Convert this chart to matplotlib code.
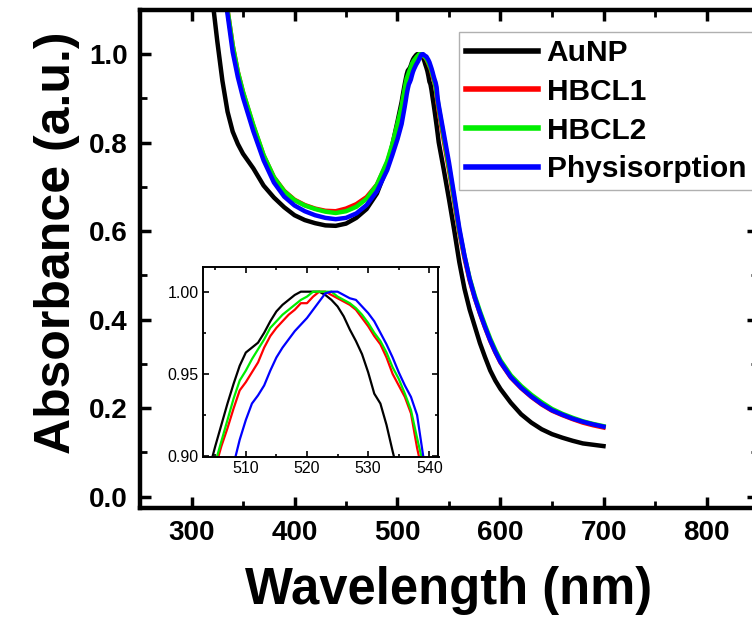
import matplotlib
matplotlib.use("Agg")
import matplotlib.pyplot as plt
from matplotlib.ticker import MultipleLocator

plt.rcParams['font.family'] = ['Liberation Sans', 'DejaVu Sans']

# main spectra (normalised absorbance); the 504-540 nm peak part is in the inset arrays
wavelength = [320, 325, 330, 335, 340, 345, 350, 360, 370, 380, 390, 400, 410, 420, 430,
              440, 450, 460, 470, 480, 490, 495, 500, 545, 550, 555, 560, 565, 570, 575,
              580, 585, 590, 595, 600, 610, 620, 630, 640, 650, 660, 670, 680, 690, 700]

aunp = [1.13, 1.03, 0.94, 0.87, 0.825, 0.797, 0.775, 0.742, 0.703, 0.676, 0.654, 0.636, 0.625,
        0.618, 0.613, 0.612, 0.617, 0.630, 0.650, 0.685, 0.745, 0.795, 0.848,
        0.738, 0.672, 0.603, 0.530, 0.470, 0.423, 0.385, 0.347, 0.315, 0.285, 0.262, 0.243,
        0.212, 0.186, 0.167, 0.152, 0.141, 0.133, 0.126, 0.120, 0.117, 0.114]

hbcl1 = [1.4, 1.3, 1.2, 1.10, 1.02, 0.96, 0.914, 0.838, 0.771, 0.722, 0.691, 0.671, 0.659,
         0.651, 0.646, 0.645, 0.651, 0.661, 0.677, 0.705, 0.755, 0.793, 0.840,
         0.804, 0.738, 0.668, 0.597, 0.539, 0.489, 0.449, 0.414, 0.382, 0.352, 0.326, 0.303,
         0.269, 0.245, 0.225, 0.208, 0.194, 0.184, 0.175, 0.167, 0.161, 0.156]

hbcl2 = [1.4, 1.3, 1.2, 1.10, 1.02, 0.96, 0.915, 0.840, 0.772, 0.722, 0.690, 0.670, 0.658,
         0.650, 0.644, 0.641, 0.645, 0.655, 0.673, 0.705, 0.758, 0.797, 0.843,
         0.812, 0.745, 0.674, 0.602, 0.544, 0.494, 0.454, 0.419, 0.387, 0.357, 0.331, 0.308,
         0.274, 0.250, 0.230, 0.213, 0.198, 0.187, 0.178, 0.170, 0.164, 0.159]

physisorption = [1.38, 1.28, 1.18, 1.09, 1.005, 0.948, 0.902, 0.826, 0.760, 0.710, 0.678, 0.658,
                 0.645, 0.636, 0.630, 0.627, 0.630, 0.640, 0.659, 0.690, 0.738, 0.772, 0.808,
                 0.820, 0.755, 0.682, 0.607, 0.545, 0.492, 0.450, 0.415, 0.383, 0.353, 0.327, 0.304,
                 0.270, 0.246, 0.226, 0.209, 0.195, 0.185, 0.176, 0.169, 0.163, 0.158]

# peak region shown in the inset
inset_wl = [504, 505, 506, 507, 508, 509, 510, 511, 512, 513, 514, 515, 516, 517, 518, 519,
            520, 521, 522, 523, 524, 525, 526, 527, 528, 529, 530, 531, 532, 533, 534, 535,
            536, 537, 538, 539, 540]

inset_aunp = [0.892, 0.906, 0.919, 0.932, 0.944, 0.955, 0.963, 0.966, 0.969, 0.975, 0.982,
              0.988, 0.992, 0.995, 0.998, 1.0, 1.0, 1.0, 1.0, 0.998, 0.995, 0.991, 0.985,
              0.977, 0.970, 0.962, 0.951, 0.938, 0.932, 0.919, 0.903, 0.888, 0.872, 0.855,
              0.838, 0.820, 0.801]

inset_hbcl1 = [0.877, 0.893, 0.906, 0.917, 0.929, 0.940, 0.945, 0.951, 0.957, 0.966, 0.973,
               0.978, 0.982, 0.986, 0.989, 0.993, 0.993, 0.997, 1.0, 1.0, 0.998, 0.996, 0.994,
               0.992, 0.989, 0.984, 0.979, 0.973, 0.968, 0.960, 0.950, 0.943, 0.936, 0.926,
               0.905, 0.888, 0.872]

inset_hbcl2 = [0.882, 0.896, 0.909, 0.922, 0.935, 0.946, 0.952, 0.959, 0.965, 0.971, 0.978,
               0.982, 0.986, 0.989, 0.992, 0.995, 0.997, 1.0, 1.0, 1.0, 1.0, 0.997, 0.995,
               0.993, 0.990, 0.986, 0.981, 0.975, 0.970, 0.963, 0.954, 0.947, 0.938, 0.928,
               0.911, 0.895, 0.880]

inset_phys = [0.842, 0.855, 0.868, 0.881, 0.895, 0.910, 0.922, 0.932, 0.937, 0.943, 0.952,
              0.960, 0.966, 0.971, 0.976, 0.980, 0.984, 0.989, 0.994, 0.999, 1.0, 1.0, 0.998,
              0.996, 0.995, 0.991, 0.987, 0.982, 0.975, 0.968, 0.960, 0.951, 0.943, 0.936,
              0.925, 0.900, 0.885]

labels = ['AuNP', 'HBCL1', 'HBCL2', 'Physisorption']
colors = ['#000000', '#ff0000', '#00ee00', '#0000ff']


def full_curve(main, peak):
    # splice the 1 nm peak data into the coarse spectrum
    lo = [(w, v) for w, v in zip(wavelength, main) if w < inset_wl[0]]
    hi = [(w, v) for w, v in zip(wavelength, main) if w > inset_wl[-1]]
    pts = lo + list(zip(inset_wl, peak)) + hi
    return [p[0] for p in pts], [p[1] for p in pts]


fig = plt.figure(figsize=(7.52, 6.18), dpi=100)
ax = fig.add_axes([140 / 752, 110 / 618, 618 / 752, 498 / 618])

series = [(aunp, inset_aunp), (hbcl1, inset_hbcl1), (hbcl2, inset_hbcl2),
          (physisorption, inset_phys)]
for (main, peak), lab, c in zip(series, labels, colors):
    x, y = full_curve(main, peak)
    ax.plot(x, y, color=c, lw=3.2, label=lab)

ax.set_xlim(250, 850)
ax.set_ylim(-0.026, 1.1)
ax.xaxis.set_major_locator(MultipleLocator(100))
ax.xaxis.set_minor_locator(MultipleLocator(50))
ax.yaxis.set_major_locator(MultipleLocator(0.2))
ax.yaxis.set_minor_locator(MultipleLocator(0.1))
ax.tick_params(which='both', direction='in', top=True, right=True)
ax.tick_params(which='major', length=8, width=2.5, labelsize=20, pad=9)
ax.tick_params(which='minor', length=5, width=2)
for lbl in ax.get_xticklabels() + ax.get_yticklabels():
    lbl.set_fontweight('bold')
for sp in ax.spines.values():
    sp.set_linewidth(3.2)

ax.set_xlabel('Wavelength (nm)', fontsize=36.5, fontweight='bold')
ax.set_ylabel('Absorbance (a.u.)', fontsize=36, fontweight='bold')
ax.xaxis.set_label_coords(0.5, -0.117)
ax.yaxis.set_label_coords(-0.097, 0.532)

leg = ax.legend(loc='upper left', bbox_to_anchor=(0.516, 0.956), borderaxespad=0,
                prop={'size': 21.5, 'weight': 'bold'}, handlelength=2.4, handletextpad=0.3,
                labelspacing=0.36, borderpad=0.24, fancybox=False, framealpha=1)
leg.get_frame().set_edgecolor('#b0b0b0')
leg.get_frame().set_linewidth(1.0)
for line in leg.get_lines():
    line.set_linewidth(4)

# inset
ins = fig.add_axes([203 / 752, 161 / 618, 235.5 / 752, 190 / 618])
for y, c in zip([inset_aunp, inset_hbcl1, inset_hbcl2, inset_phys], colors):
    ins.plot(inset_wl, y, color=c, lw=1.6)
ins.set_xlim(503, 541.5)
ins.set_ylim(0.8995, 1.015)
ins.xaxis.set_major_locator(MultipleLocator(10))
ins.xaxis.set_minor_locator(MultipleLocator(5))
ins.yaxis.set_major_locator(MultipleLocator(0.05))
ins.yaxis.set_minor_locator(MultipleLocator(0.025))
ins.yaxis.set_major_formatter(plt.FormatStrFormatter('%.2f'))
ins.tick_params(which='both', direction='in', top=True, right=True, width=1.2)
ins.tick_params(which='major', length=4, labelsize=11.5, pad=3)
ins.tick_params(which='minor', length=2.5)
for sp in ins.spines.values():
    sp.set_linewidth(1.4)

fig.savefig('out.png', dpi=100)
